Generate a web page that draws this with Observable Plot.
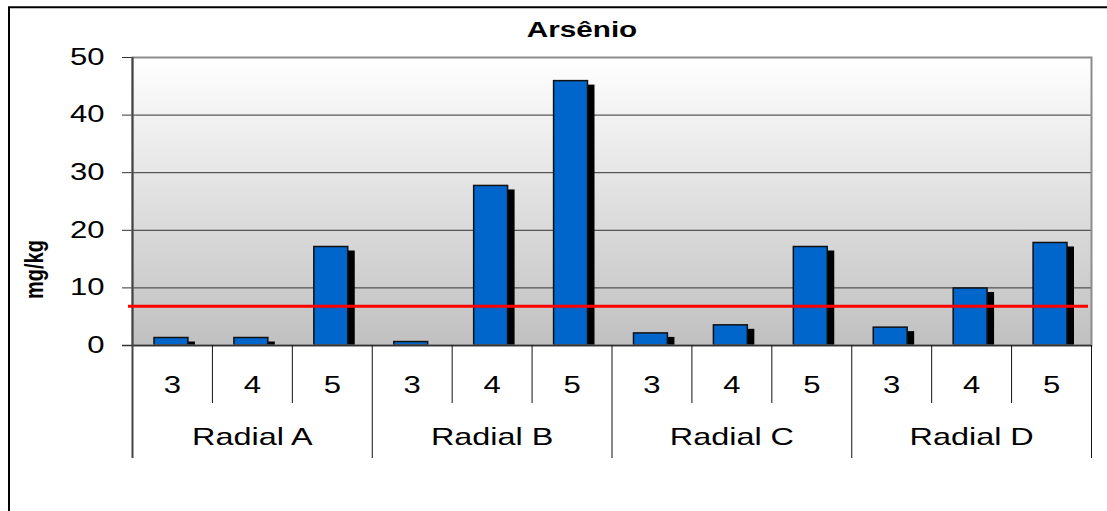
<!DOCTYPE html>
<html>
<head>
<meta charset="utf-8">
<script src="https://cdn.jsdelivr.net/npm/d3@7"></script>
<script src="https://cdn.jsdelivr.net/npm/@observablehq/plot@0.6"></script>
<style>
  html, body { margin: 0; padding: 0; background: #fff; overflow: hidden; }
  #chart svg { display: block; }
</style>
</head>
<body>
<div id="chart"></div>
<script>
// Arsenic concentration (mg/kg) per sampling point, grouped by radial
const radials = ["Radial A", "Radial B", "Radial C", "Radial D"];
const points = ["3", "4", "5"];
const arsenic = [1.3, 1.3, 17.1, 0.6, 27.7, 45.9, 2.1, 3.5, 17.1, 3.1, 9.9, 17.8];
const limit = 6.8; // reference limit line
const yTicks = [0, 10, 20, 30, 40, 50];
const title = "Arsênio";
const unit = "mg/kg";

const rows = radials.flatMap((r, i) =>
  points.map((p, j) => ({key: `${r}|${p}`, radial: r, point: p, value: arsenic[i * points.length + j]}))
);
const keys = rows.map(d => d.key);
const groupStarts = keys.filter((k, i) => i % points.length === 0);
const innerStarts = keys.filter((k, i) => i % points.length !== 0);
const groupMiddles = radials.map(r => ({key: `${r}|${points[1]}`, radial: r}));

const width = 1107, height = 511;
const mL = 132, mR = 16, mT = 57, mB = 166;
const bw = (width - mL - mR) / keys.length;

const chart = Plot.plot({
  width, height,
  marginLeft: mL, marginRight: mR, marginTop: mT, marginBottom: mB,
  style: {fontFamily: "'Liberation Sans', Arial, sans-serif", color: "#000", background: "#fff", overflow: "hidden"},
  x: {type: "band", domain: keys, padding: 0, round: false, axis: null},
  y: {domain: [0, 50], axis: null},
  marks: [
    // shaded plot area
    Plot.frame({fill: "url(#plotShade)"}),
    // gridlines with their tick stubs
    Plot.ruleY(yTicks, {stroke: "#333", strokeWidth: 1, insetLeft: -10}),
    // bar shadows
    Plot.barY(rows, {x: "key", y: "value", fill: "#000", dx: 7, insetTop: 4, insetLeft: 22, insetRight: 24}),
    // bars
    Plot.barY(rows, {x: "key", y: "value", fill: "#0066cc", stroke: "#111", strokeWidth: 1.5, insetLeft: 22, insetRight: 24}),
    // plot area border
    Plot.frame({stroke: "#8c8c8c", strokeWidth: 2}),
    // baseline
    Plot.ruleY([0], {stroke: "#333", strokeWidth: 1.5, insetLeft: -10}),
    // category separators below the axis
    Plot.ruleX(innerStarts, {x: d => d, dx: -bw / 2, y1: 0, y2: 0, insetBottom: -58, stroke: "#111", strokeWidth: 1}),
    Plot.ruleX(groupStarts.slice(1), {x: d => d, dx: -bw / 2, y1: 0, y2: 0, insetBottom: -113, stroke: "#111", strokeWidth: 1}),
    Plot.ruleX([keys[keys.length - 1]], {x: d => d, dx: bw / 2, y1: 0, y2: 0, insetBottom: -113, stroke: "#111", strokeWidth: 1}),
    // value axis line, continued down through the category rows
    Plot.ruleX([keys[0]], {x: d => d, dx: -bw / 2, y1: 50, y2: 0, insetBottom: -113, stroke: "#444", strokeWidth: 2}),
    // limit line
    Plot.ruleY([limit], {stroke: "#ff0000", strokeWidth: 3, insetLeft: -4, insetRight: 3}),
    // y tick labels
    Plot.text(yTicks, {y: d => d, text: d => String(d), frameAnchor: "left", textAnchor: "end", lineAnchor: "middle", dx: -28, fontSize: 23}),
    // point labels and radial labels
    Plot.text(rows, {x: "key", text: "point", frameAnchor: "bottom", lineAnchor: "middle", dy: 40, fontSize: 23}),
    Plot.text(groupMiddles, {x: "key", text: "radial", frameAnchor: "bottom", lineAnchor: "middle", dy: 92, fontSize: 24}),
    // title and unit
    Plot.text([title], {frameAnchor: "top", lineAnchor: "middle", dy: -28, dx: -30, fontWeight: "bold", fontSize: 22}),
    Plot.text([unit], {frameAnchor: "left", textAnchor: "middle", lineAnchor: "middle", rotate: -90, dx: -98, dy: 68, fontWeight: "bold", fontSize: 20})
  ]
});

const svg = d3.select(chart);
svg.insert("defs", ":first-child").html(
  `<linearGradient id="plotShade" x1="0" y1="0" x2="0" y2="1">
     <stop offset="0" stop-color="#ffffff"/>
     <stop offset="1" stop-color="#c0c0c0"/>
   </linearGradient>`
);

// widen the lettering horizontally
svg.selectAll("text").each(function () {
  const tr = this.getAttribute("transform") || "";
  const rotated = /rotate\(/.test(tr);
  this.setAttribute("transform", tr + (rotated ? " scale(1,1.3)" : " scale(1.35,1)"));
});

// outer chart border
svg.append("path")
  .attr("d", `M9,${height}V7.3H${width}`)
  .attr("fill", "none")
  .attr("stroke", "#000")
  .attr("stroke-width", 2);

document.getElementById("chart").append(chart);
</script>
</body>
</html>
